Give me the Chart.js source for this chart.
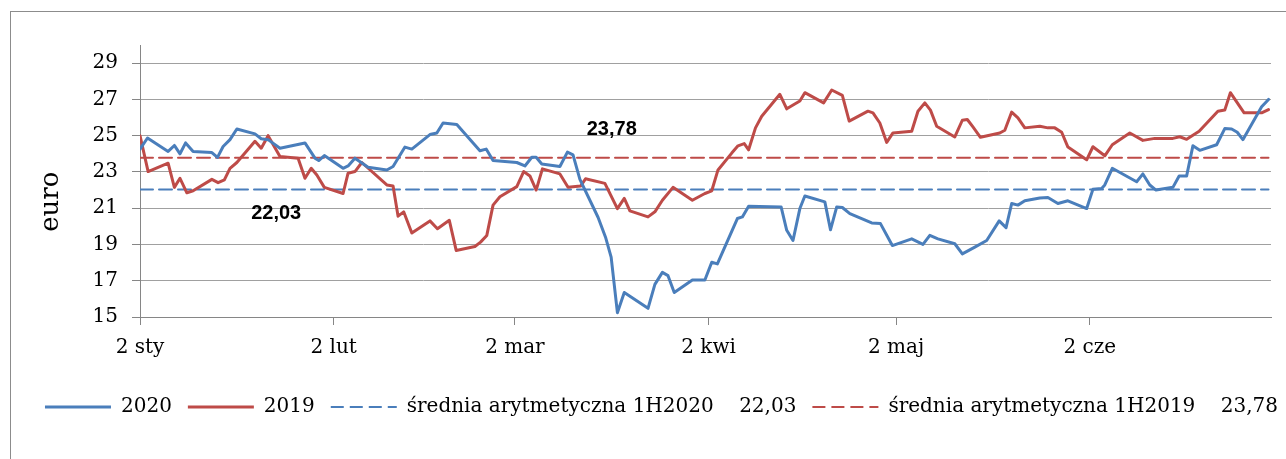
<!DOCTYPE html>
<html>
<head>
<meta charset="utf-8">
<script src="https://cdn.jsdelivr.net/npm/chart.js@4/dist/chart.umd.min.js"></script>
<style>
  html, body { margin: 0; padding: 0; background: #fff; overflow: hidden; }
  #frame { position: absolute; left: 10px; top: 11px; width: 1400px; height: 500px; border: 1px solid #8c8c8c; }
  #wrap { position: absolute; left: 0; top: 0; width: 1323px; height: 459px; }
</style>
</head>
<body>
<div id="frame"></div>
<div id="wrap"><canvas id="chart"></canvas></div>
<script>
// x = days since 2 Jan (2020 calendar), y = price in euro
const days2020 = [0, 1.2, 4.5, 5.5, 6.4, 7.3, 8.5, 11.5, 12.4, 13.3, 14.4, 15.5, 18.4, 19.4, 20.5, 22.4, 26.4, 28, 28.6, 29.5,
  32.5, 33.3, 34.4, 36.5, 39.5, 40.5, 42.4, 43.5, 46.4, 47.5, 48.5, 50.7, 54.4, 55.4, 56.5, 60.3, 61.6, 62.7, 63.4, 64.3,
  67.2, 68.4, 69.3, 70.4, 73.3, 74.5, 75.4, 76.4, 77.5, 81.3, 82.4, 83.6, 84.5, 85.5, 88.4, 90.4, 91.5, 92.4, 95.6, 96.4,
  97.4, 102.6, 103.5, 104.5, 105.6, 106.4, 109.6, 110.5, 111.5, 112.4, 113.6, 117.1, 118.5, 120.4, 123.5, 125.3, 126.4, 127.7, 130.4, 131.6,
  133.6, 135.5, 137.5, 138.6, 139.5, 140.5, 141.6, 144, 145.3, 146.9, 148.5, 151.5, 152.5, 153.9, 154.4, 155.6, 159.5, 160.5, 161.6, 162.6,
  165.3, 166.3, 167.5, 168.5, 169.6, 172.3, 173.6, 174.7, 175.6, 176.5, 179.5, 180.6];
const values2020 = [24.26, 24.87, 24.13, 24.46, 24.0, 24.6, 24.13, 24.07, 23.8, 24.4, 24.78, 25.37, 25.1, 24.83, 24.78, 24.31, 24.6, 23.76, 23.63, 23.9,
  23.2, 23.33, 23.76, 23.26, 23.11, 23.3, 24.37, 24.26, 25.06, 25.15, 25.7, 25.61, 24.17, 24.26, 23.63, 23.52, 23.33, 23.81, 23.81, 23.44,
  23.3, 24.09, 23.94, 22.59, 20.5, 19.4, 18.3, 15.24, 16.35, 15.48, 16.8, 17.46, 17.28, 16.35, 17.04, 17.04, 18.02, 17.93, 20.43, 20.52,
  21.11, 21.07, 19.78, 19.22, 20.98, 21.67, 21.35, 19.81, 21.07, 21.04, 20.7, 20.19, 20.15, 18.94, 19.31, 19.0, 19.5, 19.31, 19.04, 18.48,
  18.85, 19.22, 20.3, 19.93, 21.26, 21.17, 21.41, 21.56, 21.59, 21.26, 21.41, 20.98, 22.04, 22.09, 22.28, 23.2, 22.46, 22.89, 22.28, 22.0,
  22.15, 22.78, 22.78, 24.44, 24.19, 24.5, 25.39, 25.37, 25.19, 24.78, 26.59, 27.0];

const days2019 = [0, 1.3, 4.5, 5.5, 6.4, 7.5, 8.5, 11.5, 12.5, 13.5, 14.4, 15.5, 18.4, 19.4, 20.5, 22.4, 25.3, 26.4, 27.4, 28.3,
  29.5, 32.5, 33.3, 34.4, 35.5, 39.5, 40.5, 41.3, 42.2, 43.5, 46.4, 47.6, 49.5, 50.6, 53.6, 54.5, 55.5, 56.5, 57.6, 60.3,
  61.4, 62.4, 63.4, 64.4, 67.2, 68.5, 70.5, 71.3, 74.4, 76.4, 77.5, 78.4, 81.3, 82.4, 83.6, 85.3, 88.4, 90.4, 91.5, 92.5,
  94.7, 95.7, 96.7, 97.4, 98.5, 99.5, 102.4, 103.5, 105.6, 106.4, 109.4, 110.7, 112.4, 113.5, 116.5, 117.3, 118.4, 119.5, 120.5, 123.5,
  124.5, 125.6, 126.5, 127.5, 130.4, 131.6, 132.4, 133.3, 134.5, 137.6, 138.4, 139.5, 140.5, 141.6, 144, 145.3, 146.4, 147.5, 148.5, 151.5,
  152.5, 154.4, 155.6, 158.4, 160.5, 162.4, 165.3, 166.4, 167.5, 169.5, 172.5, 173.6, 174.5, 176.7, 179.5, 180.6];
const values2019 = [25.0, 23.02, 23.48, 22.15, 22.65, 21.85, 21.96, 22.59, 22.41, 22.56, 23.2, 23.52, 24.69, 24.31, 25.0, 23.85, 23.76, 22.65, 23.2, 22.83,
  22.15, 21.81, 22.93, 23.02, 23.52, 22.28, 22.22, 20.56, 20.8, 19.63, 20.3, 19.87, 20.33, 18.67, 18.89, 19.13, 19.5, 21.17, 21.63, 22.19,
  23.02, 22.78, 22.0, 23.17, 22.89, 22.15, 22.22, 22.62, 22.37, 20.98, 21.54, 20.85, 20.52, 20.8, 21.44, 22.15, 21.44, 21.81, 21.96, 23.11,
  24.04, 24.44, 24.56, 24.22, 25.43, 26.07, 27.28, 26.48, 26.91, 27.37, 26.81, 27.52, 27.22, 25.8, 26.35, 26.26, 25.7, 24.63, 25.15, 25.24,
  26.35, 26.81, 26.41, 25.52, 24.93, 25.85, 25.89, 25.48, 24.91, 25.15, 25.3, 26.3, 25.98, 25.43, 25.52, 25.43, 25.43, 25.19, 24.37, 23.67,
  24.39, 23.89, 24.5, 25.15, 24.74, 24.85, 24.85, 24.94, 24.8, 25.24, 26.35, 26.41, 27.37, 26.26, 26.26, 26.44];

const avg2020 = 22.03;
const avg2019 = 23.78;
const avgSpan = [0, 180.6];

const tickDays = [0, 31, 60, 91, 121, 152];
const tickLabels = ['2 sty', '2 lut', '2 mar', '2 kwi', '2 maj', '2 cze'];
const yTicks = [15, 17, 19, 21, 23, 25, 27, 29];

const blue = '#4a7ebb';
const red = '#be4b48';

function toPoints(xs, ys) {
  return xs.map((d, i) => ({ x: d, y: ys[i] }));
}

function fmt(v) {
  return v.toFixed(2).replace('.', ',');
}

// value labels on the average lines
const avgLabels = {
  id: 'avgLabels',
  afterDatasetsDraw(chart) {
    const ctx = chart.ctx;
    const x = chart.scales.x, y = chart.scales.y;
    chart.data.datasets.forEach(ds => {
      if (!ds.labelAt) return;
      const v = ds.data[0].y;
      ctx.save();
      ctx.font = 'bold 20px "Liberation Sans"';
      ctx.fillStyle = '#000';
      ctx.textAlign = 'center';
      ctx.textBaseline = 'middle';
      ctx.fillText(fmt(v), x.getPixelForValue(ds.labelAt.day), y.getPixelForValue(v) + ds.labelAt.dy);
      ctx.restore();
    });
  }
};

Chart.defaults.font.family = '"DejaVu Serif"';
Chart.defaults.font.size = 20;
Chart.defaults.color = '#000';

const ctx = document.getElementById('chart').getContext('2d');
new Chart(ctx, {
  type: 'line',
  data: {
    datasets: [
      {
        label: '2020',
        data: toPoints(days2020, values2020),
        borderColor: blue,
        borderWidth: 3
      },
      {
        label: '2019',
        data: toPoints(days2019, values2019),
        borderColor: red,
        borderWidth: 3
      },
      {
        label: 'średnia arytmetyczna 1H2020    ' + fmt(avg2020),
        data: avgSpan.map(d => ({ x: d, y: avg2020 })),
        borderColor: blue,
        borderWidth: 2,
        borderDash: [13, 6],
        labelAt: { day: 21.8, dy: 24 }
      },
      {
        label: 'średnia arytmetyczna 1H2019    ' + fmt(avg2019),
        data: avgSpan.map(d => ({ x: d, y: avg2019 })),
        borderColor: red,
        borderWidth: 2,
        borderDash: [13, 6],
        labelAt: { day: 75.5, dy: -28 }
      }
    ]
  },
  options: {
    responsive: true,
    maintainAspectRatio: false,
    animation: false,
    layout: { padding: { top: 45, right: 0, bottom: 32, left: 0 } },
    elements: {
      line: { tension: 0, borderCapStyle: 'round', borderJoinStyle: 'round', fill: false },
      point: { radius: 0, hoverRadius: 0 }
    },
    plugins: {
      legend: {
        position: 'bottom',
        labels: {
          usePointStyle: true,
          pointStyle: 'line',
          pointStyleWidth: 66,
          padding: 16,
          color: '#000',
          font: { size: 20 },
          // point style drops the dataset dash, put it back
          generateLabels(chart) {
            const items = Chart.defaults.plugins.legend.labels.generateLabels(chart);
            items.forEach(item => {
              const ds = chart.data.datasets[item.datasetIndex];
              item.lineDash = ds.borderDash || [];
              item.lineWidth = ds.borderWidth;
            });
            return items;
          }
        }
      },
      tooltip: { enabled: false }
    },
    scales: {
      x: {
        type: 'linear',
        min: 0,
        max: 181,
        afterBuildTicks(scale) {
          scale.ticks = tickDays.map(v => ({ value: v }));
        },
        afterFit(scale) { scale.height = 64; },
        ticks: {
          autoSkip: false,
          maxRotation: 0,
          padding: 11,
          callback(value) {
            const i = tickDays.indexOf(value);
            return i >= 0 ? tickLabels[i] : '';
          }
        },
        grid: { drawOnChartArea: false, drawTicks: true, tickLength: 8, color: '#868686' },
        border: { color: '#868686', width: 1 }
      },
      y: {
        min: 15,
        max: 30,
        afterBuildTicks(scale) {
          scale.ticks = yTicks.map(v => ({ value: v }));
        },
        afterFit(scale) { scale.width = 140; },
        ticks: { padding: 14 },
        grid: { color: '#a0a0a0', tickColor: '#868686', tickLength: 8 },
        border: { color: '#868686', width: 1 },
        title: {
          display: true,
          text: 'euro     ',
          font: { size: 26 },
          padding: { top: 36, bottom: 0 }
        }
      },
      // empty axis on the right, only keeps the plot from running into the legend overhang
      yRight: {
        position: 'right',
        min: 15,
        max: 30,
        ticks: { display: false },
        grid: { display: false },
        border: { display: false },
        afterFit(scale) { scale.width = 52; }
      }
    }
  },
  plugins: [avgLabels]
});
</script>
</body>
</html>
